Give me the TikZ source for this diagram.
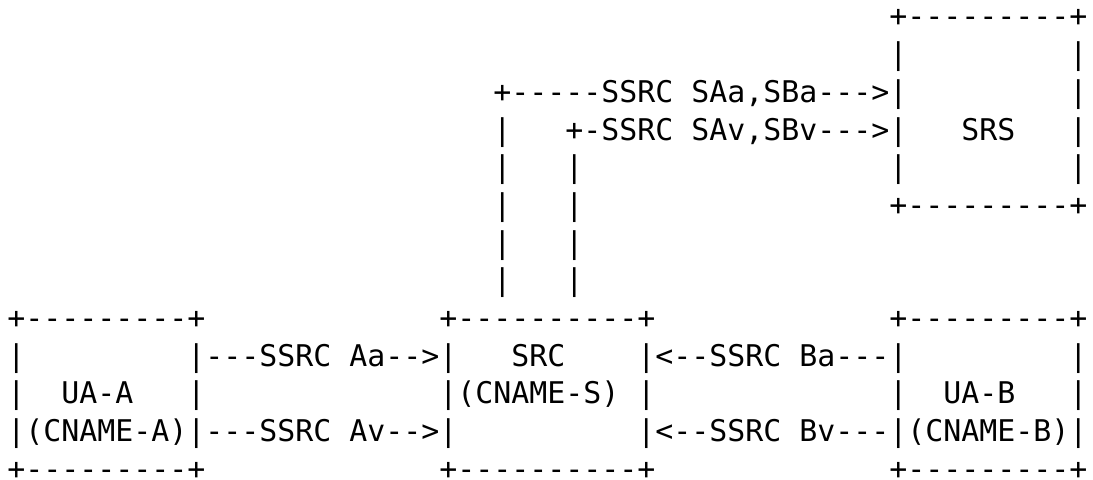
\documentclass[tikz,border=0pt]{standalone}
\usepackage{fontspec}
\setmonofont{DejaVu Sans Mono}
\usepackage{tikz}

\tikzset{
    ascii/.style={inner sep=0pt, anchor=base west,
        font=\ttfamily\fontsize{14.95pt}{18pt}\selectfont}
}

\begin{document}
\begin{tikzpicture}[x=9pt, y=-18.85pt]
    % Fixing the page
    \useasboundingbox (0pt,0pt) rectangle (546.5pt,-240pt);

    \begin{scope}[xshift=3.5pt, yshift=-13.5pt]
    % Drawing the SRS box
    \node[ascii] (srsTop) at (49,0) {+---------+};
    \node[ascii] (srsL1) at (49,1) {|};
    \node[ascii] (srsR1) at (59,1) {|};
    \node[ascii] (srsR2) at (59,2) {|};
    \node[ascii] (srs) at (53,3) {SRS};
    \node[ascii] (srsR3) at (59,3) {|};
    \node[ascii] (srsL4) at (49,4) {|};
    \node[ascii] (srsR4) at (59,4) {|};
    \node[ascii] (srsBot) at (49,5) {+---------+};

    % Drawing the streams from SRC to SRS
    \node[ascii] (saa) at (27,2) {+-----SSRC SAa,SBa--->|};
    \node[ascii] (sav) at (31,3) {+-SSRC SAv,SBv--->|};
    \node[ascii] (upA3) at (27,3) {|};
    \foreach \r in {4,...,7} {
        \node[ascii] (upA\r) at (27,\r) {|};
        \node[ascii] (upV\r) at (31,\r) {|};
    }

    % Drawing the UA-A box
    \node[ascii] (uaaTop) at (0,8) {+---------+};
    \node[ascii] (uaaL9) at (0,9) {|};
    \node[ascii] (uaaL10) at (0,10) {|};
    \node[ascii] (uaa) at (3,10) {UA-A};
    \node[ascii] (uaaR10) at (10,10) {|};
    \node[ascii] (uaaBot) at (0,12) {+---------+};

    % Drawing the streams from UA-A to SRC
    \node[ascii] (aa) at (10,9) {|---SSRC Aa-->|};
    \node[ascii] (av) at (0,11) {|(CNAME-A)|---SSRC Av-->|};

    % Drawing the SRC box
    \node[ascii] (srcTop) at (24,8) {+----------+};
    \node[ascii] (src) at (28,9) {SRC};
    \node[ascii] (srcName) at (24,10) {|(CNAME-S)};
    \node[ascii] (srcR10) at (35,10) {|};
    \node[ascii] (srcBot) at (24,12) {+----------+};

    % Drawing the streams from UA-B to SRC
    \node[ascii] (ba) at (35,9) {|<--SSRC Ba---|};
    \node[ascii] (bv) at (35,11) {|<--SSRC Bv---|(CNAME-B)|};

    % Drawing the UA-B box
    \node[ascii] (uabTop) at (49,8) {+---------+};
    \node[ascii] (uabR9) at (59,9) {|};
    \node[ascii] (uabL10) at (49,10) {|};
    \node[ascii] (uab) at (52,10) {UA-B};
    \node[ascii] (uabR10) at (59,10) {|};
    \node[ascii] (uabBot) at (49,12) {+---------+};
    \end{scope}
\end{tikzpicture}
\end{document}
